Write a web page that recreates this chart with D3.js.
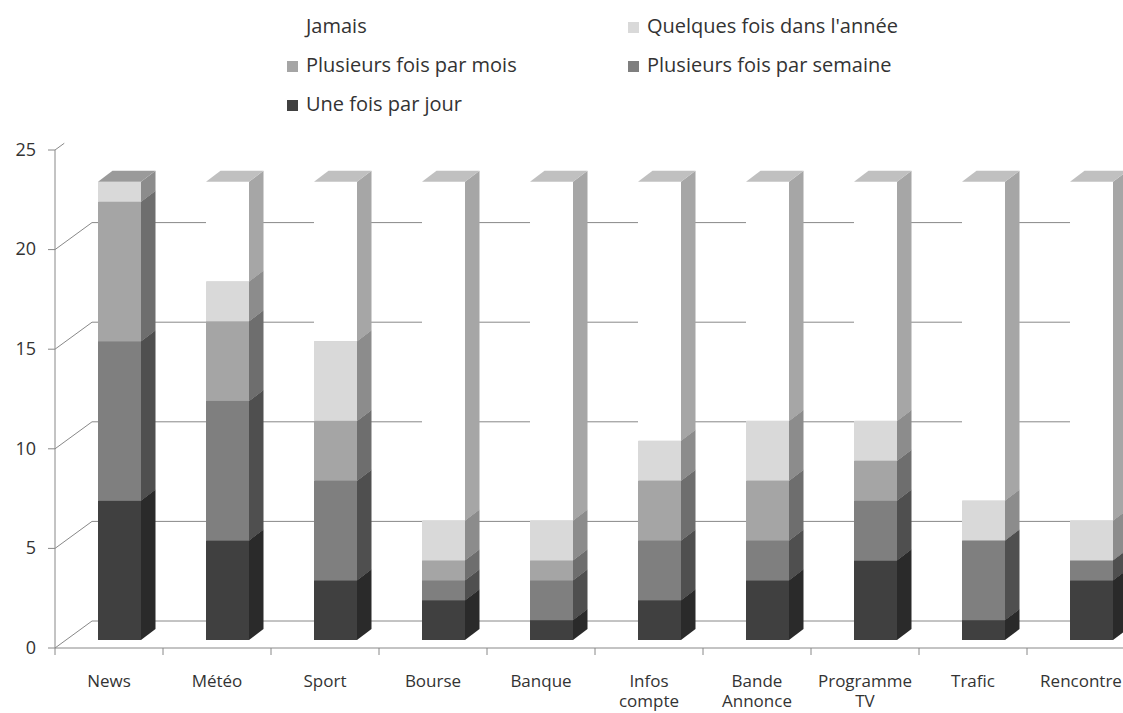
<!DOCTYPE html>
<html>
<head>
<meta charset="utf-8">
<script src="https://cdn.jsdelivr.net/npm/d3@7"></script>
<style>
  body { margin: 0; background: #fff; }
  svg { display: block; font-family: "Open Sans", Lato, sans-serif; }
</style>
</head>
<body>
<svg id="chart" width="1123" height="713"></svg>
<script>
// categories and series (counts)
const categories = ["News", "Météo", "Sport", "Bourse", "Banque", "Infos compte", "Bande Annonce", "Programme TV", "Trafic", "Rencontre"];
const uneFoisParJour = [7, 5, 3, 2, 1, 2, 3, 4, 1, 3];
const plusieursParSemaine = [8, 7, 5, 1, 2, 3, 2, 3, 4, 1];
const plusieursParMois = [7, 4, 3, 1, 1, 3, 3, 2, 0, 0];
const quelquesParAnnee = [1, 2, 4, 2, 2, 2, 3, 2, 2, 2];
const jamais = [0, 5, 8, 17, 17, 13, 12, 12, 16, 17];
const yTicks = [0, 5, 10, 15, 20, 25];

// stacking order bottom -> top
const series = [
  { key: "Une fois par jour", values: uneFoisParJour, front: "#404040", side: "#2a2a2a", top: "#333333" },
  { key: "Plusieurs fois par semaine", values: plusieursParSemaine, front: "#7f7f7f", side: "#4f4f4f", top: "#666666" },
  { key: "Plusieurs fois par mois", values: plusieursParMois, front: "#a5a5a5", side: "#6e6e6e", top: "#888888" },
  { key: "Quelques fois dans l'année", values: quelquesParAnnee, front: "#d9d9d9", side: "#8c8c8c", top: "#9a9a9a" },
  { key: "Jamais", values: jamais, front: "#ffffff", side: "#a6a6a6", top: "#c0c0c0" }
];
const legendOrder = ["Jamais", "Quelques fois dans l'année", "Plusieurs fois par mois", "Plusieurs fois par semaine", "Une fois par jour"];

const svg = d3.select("#chart");
const gridColor = "#888888";
const textColor = "#333333";

// oblique 3D offsets
const barFront = { dx: 10.5, dy: -8 };
const barDepth = { dx: 14.5, dy: -11 };
const wall = { dx: 37, dy: -27 };
const barW = 43;

const x = d3.scaleBand().domain(categories).range([55, 55 + 108 * categories.length]);
const y = d3.scaleLinear().domain([0, 25]).range([648, 150]);

// stack
const table = categories.map((c, i) => {
  const row = { cat: c };
  series.forEach(s => (row[s.key] = s.values[i]));
  return row;
});
const stacked = d3.stack().keys(series.map(s => s.key))(table);

// side wall diagonals + back wall gridlines
const grid = svg.append("g");
yTicks.forEach(v => {
  if (v === 25) {
    grid.append("line")
      .attr("x1", 55).attr("y1", y(v))
      .attr("x2", 55 + wall.dx * 0.25).attr("y2", y(v) + wall.dy * 0.25)
      .attr("stroke", gridColor);
    return;
  }
  grid.append("line")
    .attr("x1", 55).attr("y1", y(v))
    .attr("x2", 55 + wall.dx).attr("y2", y(v) + wall.dy)
    .attr("stroke", gridColor);
  grid.append("line")
    .attr("x1", 55 + wall.dx).attr("y1", y(v) + wall.dy)
    .attr("x2", 1123).attr("y2", y(v) + wall.dy)
    .attr("stroke", gridColor);
});

// axes
const yAxis = svg.append("g");
yAxis.append("line")
  .attr("x1", 55).attr("x2", 55)
  .attr("y1", y(25)).attr("y2", y(0))
  .attr("stroke", gridColor);
yTicks.forEach(v => {
  yAxis.append("line")
    .attr("x1", 48).attr("x2", 55)
    .attr("y1", y(v)).attr("y2", y(v))
    .attr("stroke", gridColor);
  yAxis.append("text")
    .attr("x", 36).attr("y", y(v) + 1)
    .attr("text-anchor", "end")
    .attr("dominant-baseline", "middle")
    .style("font-size", "18px")
    .style("fill", textColor)
    .text(v);
});

const xAxis = svg.append("g");
xAxis.append("line")
  .attr("x1", 55).attr("x2", 1123)
  .attr("y1", y(0)).attr("y2", y(0))
  .attr("stroke", gridColor);
categories.concat([null]).forEach((c, i) => {
  const xx = 55 + i * x.step();
  xAxis.append("line")
    .attr("x1", xx).attr("x2", xx)
    .attr("y1", y(0)).attr("y2", y(0) + 7)
    .attr("stroke", gridColor);
});
categories.forEach(c => {
  const t = xAxis.append("text")
    .attr("x", x(c) + x.bandwidth() / 2)
    .attr("y", 687)
    .attr("text-anchor", "middle")
    .style("font-size", "17px")
    .style("fill", textColor);
  c.split(" ").forEach((w, k) => {
    t.append("tspan")
      .attr("x", x(c) + x.bandwidth() / 2)
      .attr("dy", k === 0 ? 0 : 20)
      .text(w);
  });
});

// bars
const bars = svg.append("g");
categories.forEach((c, i) => {
  const x0 = x(c) + x.bandwidth() / 2 - barW / 2 + barFront.dx;
  const x1 = x0 + barW;
  stacked.forEach((layer, si) => {
    const d = layer[i];
    if (d[1] - d[0] <= 0) return;
    const s = series[si];
    const yTop = y(d[1]) + barFront.dy;
    const yBot = y(d[0]) + barFront.dy;
    bars.append("rect")
      .attr("x", x0).attr("y", yTop)
      .attr("width", barW).attr("height", yBot - yTop)
      .attr("fill", s.front);
    bars.append("path")
      .attr("d", `M${x1},${yTop}L${x1 + barDepth.dx},${yTop + barDepth.dy}L${x1 + barDepth.dx},${yBot + barDepth.dy}L${x1},${yBot}Z`)
      .attr("fill", s.side);
    bars.append("path")
      .attr("d", `M${x0},${yTop}L${x0 + barDepth.dx},${yTop + barDepth.dy}L${x1 + barDepth.dx},${yTop + barDepth.dy}L${x1},${yTop}Z`)
      .attr("fill", s.top);
  });
});

// legend
const legend = svg.append("g");
legendOrder.forEach((key, i) => {
  const s = series.find(d => d.key === key);
  const col = i % 2, row = Math.floor(i / 2);
  const lx = col === 0 ? 287 : 628;
  const ly = 27 + row * 39;
  legend.append("rect")
    .attr("x", lx).attr("y", ly - 5)
    .attr("width", 11).attr("height", 11)
    .attr("fill", s.front);
  legend.append("text")
    .attr("x", lx + 19).attr("y", ly + 1)
    .attr("dominant-baseline", "middle")
    .style("font-size", "20px")
    .style("fill", textColor)
    .text(key);
});
</script>
</body>
</html>
